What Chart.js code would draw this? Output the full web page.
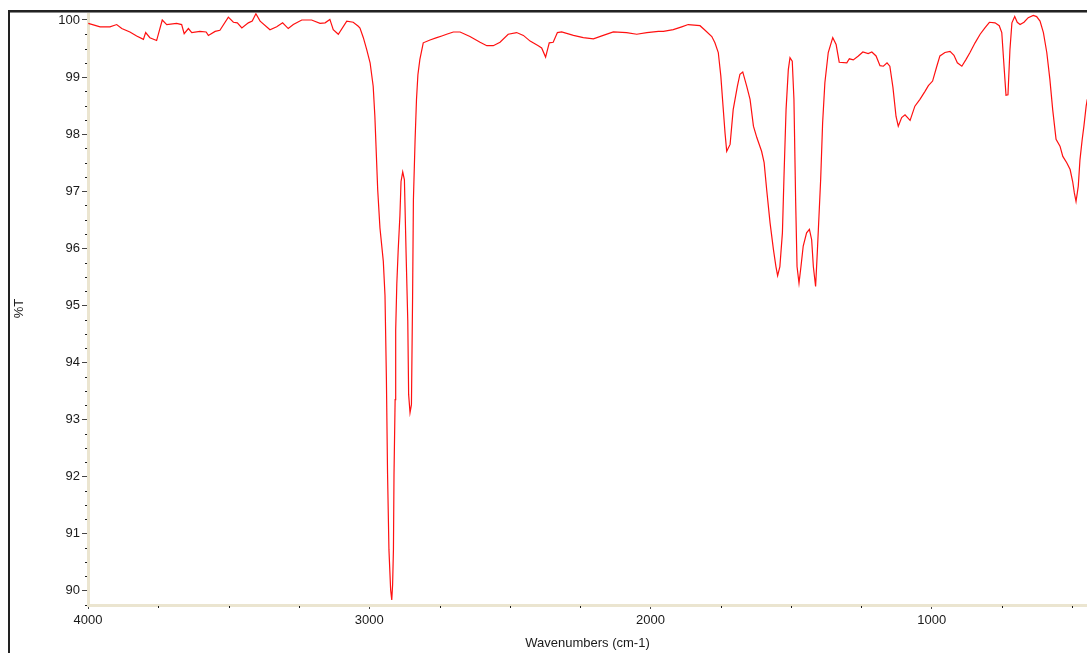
<!DOCTYPE html>
<html>
<head>
<meta charset="utf-8">
<script src="https://cdn.jsdelivr.net/npm/chart.js@4.4.1/dist/chart.umd.min.js"></script>
<style>
  html, body { margin: 0; padding: 0; background: #fff; }
  #wrap { width: 1087px; height: 653px; position: relative; }
</style>
</head>
<body>
<div id="wrap"><canvas id="irChart" width="1087" height="653"></canvas></div>
<script>
const wavenumbers = [
  3999, 3957, 3922, 3898, 3880, 3851, 3827, 3803, 3795, 3780,
  3756, 3736, 3720, 3685, 3667, 3658, 3643, 3631, 3602, 3580,
  3572, 3548, 3531, 3501, 3483, 3469, 3453, 3430, 3416, 3403,
  3388, 3353, 3329, 3308, 3288, 3270, 3240, 3205, 3175, 3157,
  3140, 3128, 3110, 3080, 3057, 3039, 3033, 3021, 3009, 2997,
  2986, 2980, 2970, 2962, 2950, 2944, 2939, 2935, 2930, 2924,
  2920, 2917, 2914, 2912, 2908, 2906, 2902, 2897, 2891, 2887,
  2881, 2875, 2869, 2863, 2860, 2855, 2850, 2846, 2843, 2837,
  2832, 2827, 2820, 2808, 2784, 2760, 2742, 2725, 2701, 2677,
  2642, 2606, 2582, 2559, 2535, 2506, 2476, 2452, 2428, 2399,
  2387, 2373, 2360, 2346, 2331, 2316, 2274, 2239, 2203, 2168,
  2132, 2085, 2049, 2013, 1972, 1954, 1919, 1889, 1866, 1824,
  1806, 1782, 1771, 1759, 1750, 1743, 1735, 1729, 1717, 1706,
  1691, 1682, 1672, 1658, 1646, 1634, 1622, 1605, 1596, 1587,
  1575, 1563, 1554, 1548, 1540, 1531, 1525, 1518, 1510, 1504,
  1496, 1490, 1484, 1479, 1472, 1465, 1457, 1445, 1435, 1427,
  1421, 1413, 1407, 1401, 1395, 1388, 1380, 1368, 1352, 1340,
  1329, 1302, 1293, 1279, 1261, 1245, 1226, 1213, 1198, 1184,
  1172, 1159, 1149, 1138, 1127, 1119, 1107, 1095, 1077, 1060,
  1042, 1024, 1012, 997, 982, 971, 953, 935, 921, 909,
  893, 878, 864, 846, 828, 811, 795, 775, 760, 751,
  743, 736, 729, 722, 715, 705, 696, 686, 672, 657,
  639, 627, 615, 603, 591, 580, 570, 558, 544, 534,
  520, 508, 499, 493, 487, 479, 473, 465, 459, 451,
  447
];

// %T values matching the wavenumbers above
const transmittance = [
  99.94, 99.88, 99.88, 99.92, 99.85, 99.79, 99.72, 99.66, 99.78, 99.69,
  99.64, 100.0, 99.92, 99.94, 99.92, 99.76, 99.85, 99.78, 99.80, 99.79,
  99.73, 99.80, 99.82, 100.05, 99.96, 99.95, 99.86, 99.95, 99.98, 100.11,
  99.98, 99.83, 99.88, 99.95, 99.85, 99.92, 100.0, 100.0, 99.94, 99.95,
  100.01, 99.83, 99.75, 99.98, 99.96, 99.89, 99.86, 99.69, 99.48, 99.25,
  98.84, 98.31, 97.03, 96.36, 95.77, 95.17, 93.70, 92.07, 90.72, 90.02,
  89.84, 90.10, 90.72, 92.03, 93.35, 94.57, 95.38, 95.98, 96.57, 97.17,
  97.34, 97.20, 95.91, 94.72, 93.44, 93.12, 93.26, 95.10, 96.85, 97.90,
  98.61, 99.04, 99.31, 99.60, 99.65, 99.69, 99.72, 99.75, 99.79, 99.79,
  99.71, 99.61, 99.55, 99.55, 99.61, 99.75, 99.78, 99.73, 99.63, 99.55,
  99.51, 99.35, 99.60, 99.61, 99.78, 99.79, 99.73, 99.69, 99.67, 99.73,
  99.79, 99.78, 99.75, 99.78, 99.80, 99.80, 99.83, 99.88, 99.92, 99.90,
  99.82, 99.71, 99.60, 99.43, 99.02, 98.55, 98.02, 97.70, 97.82, 98.43,
  98.84, 99.05, 99.09, 98.84, 98.61, 98.14, 97.94, 97.70, 97.50, 97.03,
  96.45, 95.98, 95.68, 95.52, 95.68, 96.27, 97.32, 98.43, 99.13, 99.34,
  99.28, 98.61, 96.85, 95.68, 95.39, 95.68, 96.04, 96.27, 96.33, 96.15,
  95.68, 95.33, 95.92, 96.56, 97.20, 98.20, 98.90, 99.43, 99.69, 99.57,
  99.26, 99.25, 99.32, 99.30, 99.37, 99.44, 99.41, 99.44, 99.37, 99.20,
  99.19, 99.25, 99.19, 98.82, 98.31, 98.14, 98.29, 98.34, 98.24, 98.49,
  98.61, 98.75, 98.85, 98.93, 99.19, 99.37, 99.43, 99.45, 99.38, 99.25,
  99.19, 99.31, 99.43, 99.60, 99.75, 99.86, 99.96, 99.95, 99.90, 99.78,
  99.19, 98.68, 98.69, 99.48, 99.95, 100.06, 99.96, 99.92, 99.96, 100.04,
  100.08, 100.06, 99.98, 99.78, 99.43, 98.96, 98.43, 97.91, 97.79, 97.61,
  97.50, 97.38, 97.17, 96.97, 96.82, 97.09, 97.55, 97.91, 98.14, 98.49,
  98.61
];

const xRange = [448, 4000];
const yRange = [89.75, 100.14];
const xTickValues = [4000, 3000, 2000, 1000];
const yTickValues = [90, 91, 92, 93, 94, 95, 96, 97, 98, 99, 100];
const xMinorStep = 250;
const yMinorStep = 0.25;

const points = wavenumbers.map((w, i) => ({x: w, y: transmittance[i]}));

const axisBeige = '#ebe5d0';
const inkColor = '#1a1a1a';
const fontFamily = '"Liberation Sans", Arial, sans-serif';

// window frame lines + small minor tick dots on both axes
const frameAndMinorTicks = {
  id: 'frameAndMinorTicks',
  beforeDraw(chart) {
    const ctx = chart.ctx;
    ctx.save();
    ctx.fillStyle = '#fff';
    ctx.fillRect(0, 0, chart.width, chart.height);
    ctx.restore();
  },
  afterDraw(chart) {
    const ctx = chart.ctx;
    const xs = chart.scales.x, ys = chart.scales.y;
    const area = chart.chartArea;
    ctx.save();
    ctx.fillStyle = inkColor;
    for (let v = Math.ceil(yRange[0] / yMinorStep) * yMinorStep; v <= yRange[1]; v += yMinorStep) {
      if (yTickValues.some(t => Math.abs(t - v) < 1e-6)) continue;
      const py = Math.round(ys.getPixelForValue(v));
      ctx.fillRect(area.left - 3, py, 2, 1);
    }
    for (let v = Math.ceil(xRange[0] / xMinorStep) * xMinorStep; v <= xRange[1]; v += xMinorStep) {
      if (xTickValues.includes(v)) continue;
      const px = Math.round(xs.getPixelForValue(v));
      ctx.fillRect(px, area.bottom + 1, 1, 2);
    }
    // outer frame
    ctx.fillStyle = '#222';
    ctx.fillRect(8, 10, chart.width - 8, 2);
    ctx.fillRect(8, 10, 2, chart.height - 10);
    ctx.fillStyle = '#888';
    ctx.fillRect(10, 12, chart.width - 10, 1);
    ctx.restore();
  }
};

new Chart(document.getElementById('irChart'), {
  type: 'line',
  data: {
    datasets: [{
      data: points,
      borderColor: '#ff1010',
      borderWidth: 1.2,
      pointRadius: 0,
      tension: 0,
      fill: false
    }]
  },
  options: {
    responsive: false,
    animation: false,
    events: [],
    layout: {padding: {top: 12, right: 0, left: 0, bottom: 0}},
    plugins: {legend: {display: false}, tooltip: {enabled: false}},
    scales: {
      x: {
        type: 'linear',
        reverse: true,
        min: xRange[0],
        max: xRange[1],
        afterBuildTicks(scale) { scale.ticks = xTickValues.map(v => ({value: v})); },
        afterFit(scale) { scale.height = 48; },
        ticks: {
          autoSkip: false,
          maxRotation: 0,
          padding: 4,
          color: inkColor,
          font: {family: fontFamily, size: 13},
          callback: v => String(v)
        },
        grid: {drawOnChartArea: false, drawTicks: true, tickLength: 4, tickColor: '#444', tickWidth: 1},
        border: {color: axisBeige, width: 3},
        title: {
          display: true,
          text: 'Wavenumbers (cm-1)',
          color: inkColor,
          font: {family: fontFamily, size: 13},
          padding: {top: 0, bottom: 2}
        }
      },
      y: {
        type: 'linear',
        min: yRange[0],
        max: yRange[1],
        afterBuildTicks(scale) { scale.ticks = yTickValues.map(v => ({value: v})); },
        afterFit(scale) { scale.width = 88; },
        ticks: {
          padding: 2,
          color: inkColor,
          font: {family: fontFamily, size: 13},
          callback: v => String(v)
        },
        grid: {drawOnChartArea: false, drawTicks: true, tickLength: 6, tickColor: '#444', tickWidth: 1},
        border: {color: axisBeige, width: 3},
        title: {
          display: true,
          text: '%T',
          color: inkColor,
          font: {family: fontFamily, size: 13},
          padding: {top: 12, bottom: 0}
        }
      }
    }
  },
  plugins: [frameAndMinorTicks]
});
</script>
</body>
</html>
